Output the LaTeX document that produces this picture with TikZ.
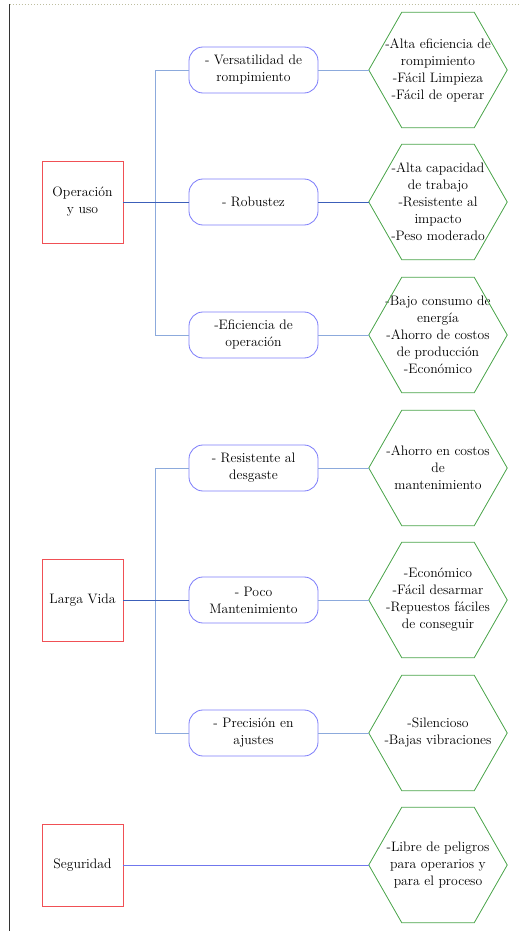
\documentclass[tikz,border=0pt]{standalone}
\usepackage{xcolor}

\definecolor{boxred}{RGB}{240,80,85}
\definecolor{boxblue}{RGB}{125,125,250}
\definecolor{hexgreen}{RGB}{75,165,75}
\definecolor{linkdark}{RGB}{60,95,185}
\definecolor{linklight}{RGB}{140,170,220}
\definecolor{framegray}{RGB}{190,190,160}

\begin{document}
\begin{tikzpicture}[
  font=\fontsize{11.7}{14.5}\selectfont,
  cat/.style={draw=boxred, line width=0.7pt, minimum width=2.43cm, minimum height=2.46cm, align=center},
  feat/.style={draw=boxblue, line width=0.7pt, rounded corners=0.42cm, minimum width=3.87cm, minimum height=1.38cm, align=center},
  hexa/.style={minimum width=4.14cm, minimum height=3.45cm, inner sep=0pt, align=center},
  hexline/.style={draw=hexgreen, line width=0.7pt},
  link/.style={draw=linkdark, line width=0.6pt},
  branch/.style={draw=linklight, line width=0.8pt},
]
\useasboundingbox (0,0) rectangle (15.57,27.93);

% page frame
\draw[black!80, line width=1pt] (0.285,27.81) -- (0.285,0);
\draw[framegray, dotted, line width=0.6pt] (0.285,27.81) -- (15.57,27.81);

% categories
\node[cat] (op) at (2.475,21.87) {Operación\\y uso};
\node[cat] (lv) at (2.475,9.93) {Larga Vida};
\node[cat] (seg) at (2.475,1.98) {Seguridad};

% features
\node[feat] (vers) at (7.605,25.83) {- Versatilidad de\\rompimiento};
\node[feat] (robu) at (7.605,21.87) {- Robustez};
\node[feat] (efic) at (7.605,17.88) {-Eficiencia de\\operación};
\node[feat] (desg) at (7.605,13.89) {- Resistente al\\desgaste};
\node[feat] (mant) at (7.605,9.93) {- Poco\\Mantenimiento};
\node[feat] (prec) at (7.605,5.94) {- Precisión en\\ajustes};

% benefits
\node[hexa] (h1) at (13.14,25.83) {-Alta eficiencia de\\rompimiento\\-Fácil Limpieza\\-Fácil de operar};
\node[hexa] (h2) at (13.14,21.87) {-Alta capacidad\\de trabajo\\-Resistente al\\impacto\\-Peso moderado};
\node[hexa] (h3) at (13.14,17.88) {-Bajo consumo de\\energía\\-Ahorro de costos\\de producción\\-Económico};
\node[hexa] (h4) at (13.14,13.89) {-Ahorro en costos\\de\\mantenimiento};
\node[hexa] (h5) at (13.14,9.93) {-Económico\\-Fácil desarmar\\-Repuestos fáciles\\de conseguir};
\node[hexa] (h6) at (13.14,5.94) {-Silencioso\\-Bajas vibraciones};
\node[hexa] (h7) at (13.14,1.98) {-Libre de peligros\\para operarios y\\para el proceso};

\foreach \h in {h1,h2,h3,h4,h5,h6,h7}
  \draw[hexline] (\h.west) -- ([xshift=0.99cm]\h.north west) -- ([xshift=-0.99cm]\h.north east)
    -- (\h.east) -- ([xshift=-0.99cm]\h.south east) -- ([xshift=0.99cm]\h.south west) -- cycle;

% connectors
\draw[branch] (vers.west) -- ++(-0.99,0) |- (efic.west);
\draw[branch] (desg.west) -- ++(-0.99,0) |- (prec.west);
\draw[link] (op) -- (robu);
\draw[link] (lv) -- (mant);
\draw[branch] (vers) -- (h1.west);
\draw[link] (robu) -- (h2.west);
\draw[branch] (efic) -- (h3.west);
\draw[branch] (desg) -- (h4.west);
\draw[branch] (mant) -- (h5.west);
\draw[branch] (prec) -- (h6.west);
\draw[link, draw=boxblue!80!linkdark] (seg) -- (h7.west);
\end{tikzpicture}
\end{document}
